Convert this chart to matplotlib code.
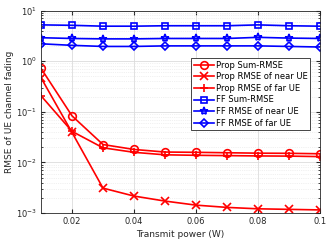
import matplotlib
matplotlib.use('Agg')
import matplotlib.pyplot as plt
import numpy as np

# transmit power (W)
power = [0.01, 0.02, 0.03, 0.04, 0.05, 0.06, 0.07, 0.08, 0.09, 0.1]

prop_sum = [0.72, 0.083, 0.0225, 0.018, 0.016, 0.0158, 0.0155, 0.0152, 0.0151, 0.0148]
prop_near = [0.47, 0.039, 0.0031, 0.00216, 0.00172, 0.00143, 0.00129, 0.00121, 0.00118, 0.00115]
prop_far = [0.207, 0.041, 0.0194, 0.0158, 0.0141, 0.0138, 0.0136, 0.0134, 0.0133, 0.013]
ff_sum = [5.2, 5.1, 4.9, 4.9, 5.0, 5.0, 5.0, 5.2, 5.0, 4.9]
ff_near = [2.9, 2.8, 2.75, 2.75, 2.8, 2.8, 2.8, 2.95, 2.85, 2.8]
ff_far = [2.2, 2.05, 1.95, 1.95, 2.0, 2.0, 2.0, 2.0, 1.95, 1.9]

series = [
    ('Prop Sum-RMSE', prop_sum, 'r', 'o'),
    ('Prop RMSE of near UE', prop_near, 'r', 'x'),
    ('Prop RMSE of far UE', prop_far, 'r', '+'),
    ('FF Sum-RMSE', ff_sum, 'b', 's'),
    ('FF RMSE of near UE', ff_near, 'b', '*'),
    ('FF RMSE of far UE', ff_far, 'b', 'D'),
]

plt.rcParams['font.family'] = 'DejaVu Sans'
plt.rcParams['mathtext.default'] = 'regular'
fig = plt.figure(figsize=(3.33, 2.44), dpi=100)
ax = fig.add_axes([41/333, 1-213/244, (320-41)/333, (213-10.5)/244])

for name, vals, col, mk in series:
    ms = {'o': 5.5, 's': 5, 'D': 4.5}.get(mk, 6)
    ax.plot(power, vals, color=col, marker=mk, markersize=ms, lw=1.2,
            markerfacecolor='none', markeredgewidth=1.2, label=name)

ax.set_yscale('log')
ax.set_xlim(0.01, 0.1)
ax.set_ylim(1e-3, 1e1)
ax.set_xticks([0.02, 0.04, 0.06, 0.08, 0.1])
ax.set_xticklabels(['0.02', '0.04', '0.06', '0.08', '0.1'])
ax.tick_params(which='both', direction='in', labelsize=6, colors='#262626',
               top=True, right=True, pad=3)
ax.tick_params(which='major', length=3)
ax.tick_params(which='minor', length=1.5)
ax.grid(True, which='major', color='#dcdcdc', lw=0.6)
ax.grid(True, which='minor', color='#e3e3e3', lw=0.5, ls=':')
for s in ax.spines.values():
    s.set_color('#262626')
    s.set_linewidth(0.6)

ax.set_xlabel('Transmit power (W)', fontsize=6.5, color='#262626', labelpad=3)
ax.set_ylabel('RMSE of UE channel fading', fontsize=6.5, color='#262626', labelpad=1)

leg = ax.legend(loc='upper left', bbox_to_anchor=((191-41)/279, (213-58)/202.5),
                fontsize=6.0, fancybox=False, edgecolor='#262626', framealpha=1,
                handlelength=2.4, handletextpad=0.3, borderpad=0.3,
                labelspacing=0.32, borderaxespad=0)
leg.get_frame().set_linewidth(0.6)

fig.savefig('out.png', dpi=100)
